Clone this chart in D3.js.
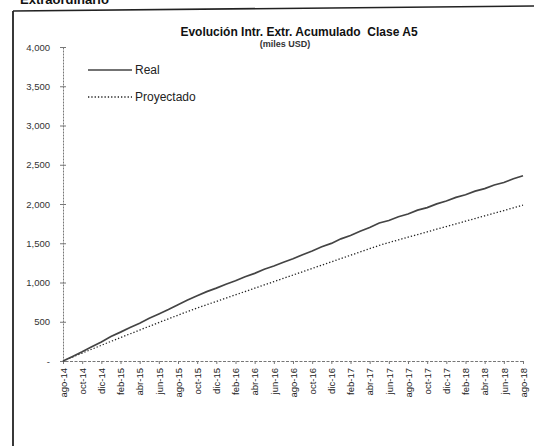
<!DOCTYPE html>
<html>
<head>
<meta charset="utf-8">
<script src="https://cdn.jsdelivr.net/npm/d3@7"></script>
<style>
  body { margin: 0; background: #fff; }
  svg { display: block; font-family: "Liberation Sans", Arial, sans-serif; }
</style>
</head>
<body>
<svg id="chart" width="534" height="446"></svg>
<script>
// ── 데이터 ─────────────────────────────────────────────
const months = [
  "ago-14","sep-14","oct-14","nov-14","dic-14","ene-15","feb-15","mar-15","abr-15","may-15","jun-15","jul-15",
  "ago-15","sep-15","oct-15","nov-15","dic-15","ene-16","feb-16","mar-16","abr-16","may-16","jun-16","jul-16",
  "ago-16","sep-16","oct-16","nov-16","dic-16","ene-17","feb-17","mar-17","abr-17","may-17","jun-17","jul-17",
  "ago-17","sep-17","oct-17","nov-17","dic-17","ene-18","feb-18","mar-18","abr-18","may-18","jun-18","jul-18",
  "ago-18"
];
const realValues = [
  0, 58, 118, 182, 243, 312, 368, 428, 482, 544, 598, 655,
  718, 776, 832, 884, 928, 978, 1022, 1074, 1116, 1168, 1210, 1258,
  1302, 1354, 1402, 1455, 1498, 1556, 1598, 1652, 1700, 1758, 1790, 1838,
  1872, 1922, 1954, 2002, 2038, 2084, 2118, 2164, 2196, 2242, 2274, 2322,
  2360
];
const proyValues = [
  0, 50, 100, 150, 200, 250, 298, 346, 394, 442, 490, 537,
  584, 630, 675, 717, 759, 801, 843, 885, 927, 969, 1011, 1053,
  1095, 1137, 1179, 1221, 1263, 1305, 1347, 1389, 1431, 1473, 1509, 1543,
  1577, 1611, 1645, 1679, 1713, 1747, 1781, 1815, 1849, 1883, 1917, 1951,
  1985
];
const yTicks = [0, 500, 1000, 1500, 2000, 2500, 3000, 3500, 4000];
const seriesNames = ["Real", "Proyectado"];

// ── 레이아웃 ───────────────────────────────────────────
const X0 = 63, X1 = 523;
const Y0 = 361, Y1 = 47;

const svg = d3.select("#chart");

// 스캔된 문서 틀 (위쪽 제목은 원본처럼 잘려 있음)
svg.append("text")
  .attr("x", 20).attr("y", 4)
  .attr("font-size", 13).attr("font-weight", "bold")
  .attr("fill", "#111")
  .text("Extraordinario");
svg.append("line")
  .attr("x1", 13).attr("y1", 11).attr("x2", 534).attr("y2", 6)
  .attr("stroke", "#222").attr("stroke-width", 1.6);
svg.append("line")
  .attr("x1", 13).attr("y1", 11).attr("x2", 13).attr("y2", 446)
  .attr("stroke", "#222").attr("stroke-width", 1.8);

// ── 스케일 ─────────────────────────────────────────────
const x = d3.scalePoint().domain(months).range([X0, X1]);
const y = d3.scaleLinear().domain([0, 4000]).range([Y0, Y1]);

// 제목
svg.append("text")
  .attr("x", 299).attr("y", 36)
  .attr("text-anchor", "middle")
  .attr("font-size", 12).attr("font-weight", "bold")
  .attr("fill", "#111")
  .style("white-space", "pre")
  .text("Evolución Intr. Extr. Acumulado\u00a0 Clase A5");
svg.append("text")
  .attr("x", 285).attr("y", 47)
  .attr("text-anchor", "middle")
  .attr("font-size", 9).attr("font-weight", "bold")
  .attr("fill", "#333")
  .text("(miles USD)");

// ── Y 축 ───────────────────────────────────────────────
const yAxis = svg.append("g")
  .attr("transform", `translate(${X0},0)`)
  .call(d3.axisLeft(y).tickValues(yTicks).tickSize(0)
    .tickFormat(d => d === 0 ? "-" : d3.format(",")(d)));
yAxis.select(".domain")
  .attr("stroke", "#777").attr("stroke-width", 1).attr("stroke-dasharray", "2,1");
yAxis.selectAll(".tick text")
  .attr("x", -13)
  .attr("font-size", 9.5).attr("fill", "#333")
  .attr("font-family", "Liberation Sans, Arial, sans-serif");
yAxis.selectAll(".tick").append("line")
  .attr("x1", -3).attr("x2", 3).attr("stroke", "#777");

// ── X 축 ───────────────────────────────────────────────
const xLabels = months.filter((m, i) => i % 2 === 0);
const xAxis = svg.append("g")
  .attr("transform", `translate(0,${Y0})`)
  .call(d3.axisBottom(x).tickValues(xLabels).tickSize(3));
xAxis.select(".domain")
  .attr("stroke", "#777").attr("stroke-width", 1).attr("stroke-dasharray", "3,1.5");
xAxis.selectAll(".tick line").attr("stroke", "#777");
xAxis.selectAll(".tick text")
  .attr("transform", "rotate(-90)")
  .attr("text-anchor", "end")
  .attr("x", -7).attr("y", 0).attr("dy", "0.35em")
  .attr("font-size", 9.5).attr("fill", "#222")
  .attr("font-family", "Liberation Sans, Arial, sans-serif");

// ── 선 ─────────────────────────────────────────────────
const line = d3.line()
  .x((d, i) => x(months[i]))
  .y(d => y(d));

svg.append("path")
  .datum(proyValues)
  .attr("d", line)
  .attr("fill", "none")
  .attr("stroke", "#222").attr("stroke-width", 1.3)
  .attr("stroke-dasharray", "1.3,2");

svg.append("path")
  .datum(realValues)
  .attr("d", line)
  .attr("fill", "none")
  .attr("stroke", "#444").attr("stroke-width", 1.7);

// ── 범례 ───────────────────────────────────────────────
const legend = svg.append("g");
seriesNames.forEach((name, i) => {
  const ly = 70 + i * 27;
  legend.append("line")
    .attr("x1", 88).attr("x2", 132).attr("y1", ly).attr("y2", ly)
    .attr("stroke", i === 0 ? "#444" : "#222")
    .attr("stroke-width", i === 0 ? 1.7 : 1.3)
    .attr("stroke-dasharray", i === 0 ? null : "1.3,2");
  legend.append("text")
    .attr("x", 135).attr("y", ly + 4)
    .attr("font-size", 12).attr("fill", "#222")
    .text(name);
});
</script>
</body>
</html>
